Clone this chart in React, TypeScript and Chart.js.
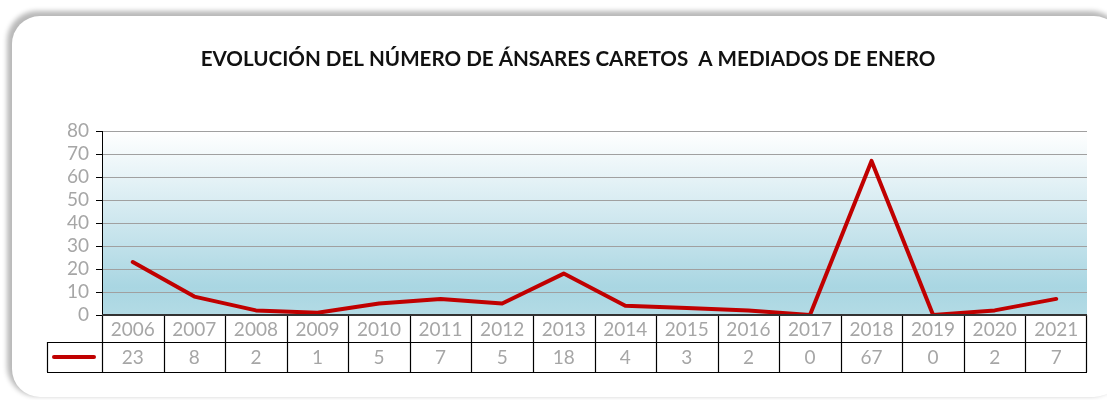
import React, { useEffect, useRef } from "react";
import { Chart, registerables } from "chart.js";

Chart.register(...registerables);

const TITLE = "EVOLUCIÓN DEL NÚMERO DE ÁNSARES CARETOS  A MEDIADOS DE ENERO";
const years = ["2006", "2007", "2008", "2009", "2010", "2011", "2012", "2013", "2014", "2015", "2016", "2017", "2018", "2019", "2020", "2021"];
const counts = [23, 8, 2, 1, 5, 7, 5, 18, 4, 3, 2, 0, 67, 0, 2, 7];
const yMax = 80;
const yStep = 10;

const FONT = "Lato, 'Open Sans', sans-serif";
const GRAY_TEXT = "#a6a6a6";
const RED = "#c00000";

const HEADER_H = 27;
const VALUE_H = 30;
const LEGEND_LEFT = 47;

const bgPlugin = {
  id: "bgGradient",
  beforeDraw(chart: any) {
    const { ctx, chartArea } = chart;
    const g = ctx.createLinearGradient(0, chartArea.top, 0, chartArea.bottom);
    g.addColorStop(0, "#ffffff");
    g.addColorStop(0.45, "#d2e9f0");
    g.addColorStop(0.85, "#a9d6e2");
    g.addColorStop(1, "#b3dbe5");
    ctx.save();
    ctx.fillStyle = g;
    ctx.fillRect(chartArea.left, chartArea.top, chartArea.right - chartArea.left, chartArea.bottom - chartArea.top);
    ctx.restore();
  },
};

const titlePlugin = {
  id: "customTitle",
  afterDraw(chart: any) {
    const { ctx } = chart;
    ctx.save();
    ctx.font = `bold 20.6px ${FONT}`;
    ctx.fillStyle = "#111111";
    ctx.textAlign = "center";
    ctx.textBaseline = "middle";
    ctx.fillText(TITLE, 568, 59);
    ctx.restore();
  },
};

const tablePlugin = {
  id: "dataTable",
  afterDraw(chart: any) {
    const { ctx, chartArea } = chart;
    const xs = chart.scales.x;
    const n = years.length;
    const cellW = (chartArea.right - chartArea.left) / n;
    const top = chartArea.bottom;
    const mid = top + HEADER_H;
    const bot = mid + VALUE_H;
    ctx.save();
    ctx.font = `19px ${FONT}`;
    ctx.fillStyle = GRAY_TEXT;
    ctx.textAlign = "center";
    ctx.textBaseline = "middle";
    for (let i = 0; i < n; i++) {
      const cx = xs.getPixelForValue(i);
      ctx.fillText(years[i], cx, top + HEADER_H / 2 + 1);
      ctx.fillText(String(counts[i]), cx, mid + VALUE_H / 2 + 1);
    }
    ctx.strokeStyle = "#000000";
    ctx.lineWidth = 1.2;
    ctx.beginPath();
    for (let i = 1; i < n; i++) {
      const x = Math.round(chartArea.left + i * cellW) + 0.5;
      ctx.moveTo(x, top);
      ctx.lineTo(x, bot);
    }
    ctx.moveTo(chartArea.left + 0.5, top);
    ctx.lineTo(chartArea.left + 0.5, bot);
    ctx.moveTo(chartArea.right - 0.5, top);
    ctx.lineTo(chartArea.right - 0.5, bot);
    ctx.moveTo(LEGEND_LEFT, mid + 0.5);
    ctx.lineTo(chartArea.right, mid + 0.5);
    ctx.moveTo(LEGEND_LEFT, bot + 0.5);
    ctx.lineTo(chartArea.right, bot + 0.5);
    ctx.moveTo(LEGEND_LEFT + 0.5, mid);
    ctx.lineTo(LEGEND_LEFT + 0.5, bot);
    ctx.stroke();
    ctx.strokeStyle = "#333333";
    ctx.lineWidth = 2;
    ctx.beginPath();
    ctx.moveTo(chartArea.left, top);
    ctx.lineTo(chartArea.right, top);
    ctx.stroke();
    ctx.strokeStyle = RED;
    ctx.lineWidth = 4;
    ctx.lineCap = "round";
    ctx.beginPath();
    ctx.moveTo(LEGEND_LEFT + 7, mid + VALUE_H / 2);
    ctx.lineTo(chartArea.left - 8, mid + VALUE_H / 2);
    ctx.stroke();
    ctx.restore();
  },
};

export default function App() {
  const ref = useRef<HTMLCanvasElement | null>(null);
  useEffect(() => {
    if (!ref.current) return;
    const chart = new Chart(ref.current, {
      type: "line",
      data: {
        labels: years,
        datasets: [
          {
            label: "Ánsares caretos",
            data: counts,
            borderColor: RED,
            backgroundColor: RED,
            borderWidth: 4,
            pointRadius: 0,
            tension: 0,
            borderCapStyle: "round",
            borderJoinStyle: "round",
          },
        ],
      },
      options: {
        animation: false,
        responsive: false,
        maintainAspectRatio: false,
        layout: { padding: { top: 131, bottom: 400 - 315, right: 20, left: 0 } },
        plugins: {
          legend: { display: false },
          title: { display: false },
          tooltip: { enabled: false },
        },
        scales: {
          x: {
            type: "category",
            offset: true,
            display: false,
          },
          y: {
            min: 0,
            max: yMax,
            afterFit(scale: any) {
              scale.width = 102;
            },
            ticks: {
              stepSize: yStep,
              autoSkip: false,
              color: GRAY_TEXT,
              font: { family: FONT, size: 19 },
              padding: 7,
            },
            grid: {
              color: "#a0a0a0",
              lineWidth: 1,
              tickColor: "#000000",
              tickLength: 6,
              drawOnChartArea: true,
            },
            border: { display: true, color: "#000000", width: 1 },
          },
        },
      },
      plugins: [bgPlugin, titlePlugin, tablePlugin],
    });
    return () => chart.destroy();
  }, []);

  return (
    <div style={{ position: "fixed", left: 0, top: 0, width: 1107, height: 400, background: "#ffffff", overflow: "hidden" }}>
      <div
        style={{
          position: "absolute",
          left: 12,
          top: 16,
          width: 1110,
          height: 381,
          borderRadius: 28,
          background: "#ffffff",
          boxShadow: "-3px -3px 5px 2px rgba(0,0,0,0.28)",
        }}
      />
      <canvas ref={ref} width={1107} height={400} style={{ position: "absolute", left: 0, top: 0 }} />
    </div>
  );
}
